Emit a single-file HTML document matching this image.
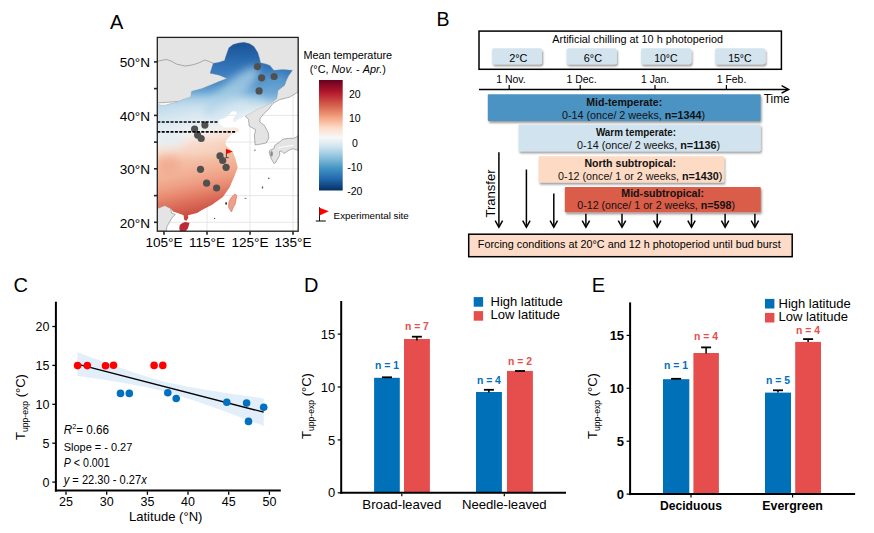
<!DOCTYPE html>
<html><head><meta charset="utf-8"><style>
html,body{margin:0;padding:0;background:#fff;}
svg{display:block;font-family:"Liberation Sans", sans-serif;}
</style></head><body>
<svg width="874" height="533" viewBox="0 0 874 533">
<rect width="874" height="533" fill="#fff"/>
<text x="110" y="29.3" font-size="20" fill="#000">A</text>
<defs><clipPath id="frame"><rect x="157.3" y="37.4" width="140.89999999999998" height="193.79999999999998"/></clipPath>
<linearGradient id="tg" gradientUnits="userSpaceOnUse" x1="200" y1="40" x2="200" y2="235" gradientTransform="rotate(-12 200 140)">
<stop offset="0.2564" stop-color="#a9cfe6"/>
<stop offset="0.3077" stop-color="#c0dbec"/>
<stop offset="0.3692" stop-color="#d6e6f0"/>
<stop offset="0.4256" stop-color="#e5eef4"/>
<stop offset="0.4718" stop-color="#f2f1f0"/>
<stop offset="0.5077" stop-color="#f9e4d9"/>
<stop offset="0.5538" stop-color="#f7d2c0"/>
<stop offset="0.6051" stop-color="#f4bfa6"/>
<stop offset="0.6667" stop-color="#f2b196"/>
<stop offset="0.7179" stop-color="#eea085"/>
<stop offset="0.7590" stop-color="#e88c72"/>
<stop offset="0.7949" stop-color="#e07862"/>
<stop offset="0.8308" stop-color="#d86654"/>
<stop offset="0.8615" stop-color="#cf5849"/>
<stop offset="0.8923" stop-color="#c5443e"/>
<stop offset="0.9333" stop-color="#bb3037"/>
<stop offset="1.0000" stop-color="#b2182b"/>
</linearGradient>
<linearGradient id="ng" gradientUnits="userSpaceOnUse" x1="0" y1="42" x2="0" y2="114">
<stop offset="0.0000" stop-color="#1a5294" stop-opacity="1"/>
<stop offset="0.1806" stop-color="#2463a8" stop-opacity="1"/>
<stop offset="0.3889" stop-color="#3678bb" stop-opacity="1"/>
<stop offset="0.5833" stop-color="#4a8cc6" stop-opacity="1"/>
<stop offset="0.6944" stop-color="#6fa9d5" stop-opacity="1"/>
<stop offset="0.7917" stop-color="#a4cbe4" stop-opacity="0.85"/>
<stop offset="0.9028" stop-color="#c4ddec" stop-opacity="0.4"/>
<stop offset="1.0000" stop-color="#d0e4ef" stop-opacity="0"/>
</linearGradient>
<linearGradient id="cb" x1="0" y1="0" x2="0" y2="1">
<stop offset="0" stop-color="#67001f"/>
<stop offset="0.11" stop-color="#b2182b"/>
<stop offset="0.23" stop-color="#d6604d"/>
<stop offset="0.34" stop-color="#f4a582"/>
<stop offset="0.43" stop-color="#fddbc7"/>
<stop offset="0.52" stop-color="#f7f7f7"/>
<stop offset="0.60" stop-color="#d1e5f0"/>
<stop offset="0.69" stop-color="#92c5de"/>
<stop offset="0.80" stop-color="#4393c3"/>
<stop offset="0.90" stop-color="#2166ac"/>
<stop offset="1" stop-color="#053061"/>
</linearGradient>
<filter id="blur2" x="-50%" y="-50%" width="200%" height="200%"><feGaussianBlur stdDeviation="4"/></filter>
<filter id="blur1" x="-50%" y="-50%" width="200%" height="200%"><feGaussianBlur stdDeviation="1"/></filter>
<filter id="shadow" x="-10%" y="-30%" width="130%" height="180%"><feGaussianBlur in="SourceAlpha" stdDeviation="1.2"/><feOffset dx="1.3" dy="1.6" result="o"/><feComponentTransfer><feFuncA type="linear" slope="0.4"/></feComponentTransfer><feMerge><feMergeNode/><feMergeNode in="SourceGraphic"/></feMerge></filter>

<clipPath id="china"><polygon points="157.3,104.5 164.4,105.4 168.8,104.1 177.5,101.7 183.0,99.5 190.7,97.0 191.6,91.3 202.0,88.5 211.9,84.4 219.0,81.5 226.9,78.5 219.4,75.3 210.0,73.3 213.2,63.2 218.0,62.5 224.5,60.4 225.5,57.0 228.8,47.8 233.0,44.5 238.1,43.1 244.0,42.3 249.4,43.6 254.0,46.5 257.8,52.5 259.5,58.0 260.6,62.8 266.0,64.0 270.0,65.6 273.8,70.3 283.0,69.5 292.5,70.3 288.5,76.0 286.6,80.0 284.6,85.3 278.0,90.5 276.8,98.4 271.5,103.0 265.0,106.3 257.0,109.5 249.2,114.1 245.3,116.1 242.5,117.4 237.8,119.7 235.0,122.0 233.1,122.0 233.1,118.8 236.9,114.1 236.0,111.3 232.2,111.3 229.4,114.1 226.6,116.9 223.8,118.3 219.1,119.7 218.1,123.0 220.0,124.4 223.8,127.2 229.4,127.7 233.1,127.2 237.8,128.1 239.7,131.0 236.9,132.4 232.2,133.8 228.5,137.5 225.6,141.3 225.6,145.0 229.4,148.8 232.8,151.7 235.7,159.5 237.7,167.4 234.8,175.3 229.8,187.1 222.9,197.0 212.1,204.8 202.3,209.8 197.0,213.0 188.0,215.3 188.3,218.0 186.5,220.8 184.3,220.0 183.5,215.3 179.8,213.8 173.0,211.5 170.8,208.5 164.8,205.5 157.3,208.5"/></clipPath></defs>
<rect x="157.3" y="37.4" width="140.89999999999998" height="193.79999999999998" fill="#fff"/>
<g stroke="#dcdcdc" stroke-width="0.7" clip-path="url(#frame)">
<line x1="157.3" y1="222.3" x2="298.2" y2="222.3"/>
<line x1="157.3" y1="195.6" x2="298.2" y2="195.6"/>
<line x1="157.3" y1="168.8" x2="298.2" y2="168.8"/>
<line x1="157.3" y1="142.1" x2="298.2" y2="142.1"/>
<line x1="157.3" y1="115.4" x2="298.2" y2="115.4"/>
<line x1="157.3" y1="88.6" x2="298.2" y2="88.6"/>
<line x1="157.3" y1="61.9" x2="298.2" y2="61.9"/>
<line x1="164.0" y1="37.4" x2="164.0" y2="231.2"/>
<line x1="207.0" y1="37.4" x2="207.0" y2="231.2"/>
<line x1="250.0" y1="37.4" x2="250.0" y2="231.2"/>
<line x1="293.0" y1="37.4" x2="293.0" y2="231.2"/>
</g>
<g clip-path="url(#frame)" fill="#e4e4e4" stroke="#6a6a6a" stroke-width="0.5">
<polygon points="157.3,37.4 298.2,37.4 298.2,91.8 289.9,97.1 279.4,99.7 272.8,103.6 268.9,108.9 264.0,113.5 260.3,118.1 259.7,122.0 264.3,125.3 268.2,132.5 268.9,137.8 266.3,143.0 259.7,144.3 255.1,145.0 254.4,135.1 255.8,129.9 249.2,126.0 248.5,119.4 245.3,116.1 244.0,113.0 236.0,106.0 200.0,100.0 157.3,103.0"/>
<polygon points="157.3,208.5 164.8,205.5 170.8,208.5 171.5,213.0 175.3,214.5 172.3,217.5 170.0,221.3 167.0,226.5 166.3,231.2 157.3,231.2"/>
<polygon points="274.8,145.3 279.0,142.4 283.1,139.1 289.7,138.3 293.8,138.3 296.3,137.1 298.2,135.4 298.2,150.3 294.6,149.4 293.0,148.6 288.9,150.3 283.9,153.6 281.4,151.1 279.5,151.5 279.8,155.2 277.3,159.3 275.7,162.6 274.0,163.5 271.5,159.3 269.1,152.7 269.9,150.3 274.0,148.6"/>
<polyline fill="none" points="157.3,61.3 166.3,59.4 171,61 176.6,64.1 185,66 192,65 198.2,63.2 204.8,60 209,61.5 213.2,63.2"/>
</g>
<g clip-path="url(#china)">
<rect x="150" y="40" width="150" height="195" fill="url(#tg)"/>
<rect x="150" y="40" width="150" height="76" fill="url(#ng)"/>
<g filter="url(#blur2)">
<ellipse cx="232" cy="92" rx="36" ry="10" transform="rotate(-42 232 92)" fill="#a9cfe6" opacity="0.8"/>
<ellipse cx="275" cy="88" rx="16" ry="14" fill="#6aa7d3" opacity="0.6"/>
<ellipse cx="228" cy="110" rx="22" ry="7" transform="rotate(-20 228 110)" fill="#d5e7f2" opacity="0.8"/>
<ellipse cx="170" cy="140" rx="16" ry="7" fill="#e3edf4" opacity="0.9"/>
<ellipse cx="168" cy="165" rx="12" ry="9" fill="#f0a98d" opacity="0.8"/>
<ellipse cx="205" cy="150" rx="22" ry="6" fill="#f8d8c8" opacity="0.6"/>
</g>
</g>
<polyline fill="none" stroke="#9a9a9a" stroke-width="0.3" points="157.3,104.5 164.4,105.4 168.8,104.1 177.5,101.7 183.0,99.5 190.7,97.0 191.6,91.3 202.0,88.5 211.9,84.4 219.0,81.5 226.9,78.5 219.4,75.3 210.0,73.3 213.2,63.2 218.0,62.5 224.5,60.4 225.5,57.0 228.8,47.8 233.0,44.5 238.1,43.1 244.0,42.3 249.4,43.6 254.0,46.5 257.8,52.5 259.5,58.0 260.6,62.8 266.0,64.0 270.0,65.6 273.8,70.3 283.0,69.5 292.5,70.3 288.5,76.0 286.6,80.0 284.6,85.3 278.0,90.5 276.8,98.4 271.5,103.0 265.0,106.3 257.0,109.5 249.2,114.1 245.3,116.1"/>
<polygon points="179.8,225 182,223.2 185,222 189.5,222.8 188.8,225.5 188,228 185.8,231.2 179.8,231.2 179.3,228" fill="#bd2a37"/>
<polygon points="234.9,194 236.8,195.5 236,200 235.3,203.8 233,208 231.5,212 229.5,209 228.5,206.8 228.9,202.3 230.5,198.5 232.3,196.3" fill="#eda089" stroke="#d86a5a" stroke-width="0.6"/>
<g fill="#3a3a3a">
<ellipse cx="226.1" cy="203.5" rx="0.9" ry="1.4"/>
<ellipse cx="214.6" cy="218.3" rx="0.7" ry="0.6"/>
<ellipse cx="245.5" cy="198.3" rx="1.1" ry="0.6" fill="#777"/>
<ellipse cx="268.8" cy="178.3" rx="0.8" ry="0.9" fill="#666"/>
<ellipse cx="262.5" cy="187.5" rx="0.7" ry="1.2" fill="#666"/>
<ellipse cx="254.9" cy="150.2" rx="0.8" ry="0.6" fill="#666"/>
</g>
<polyline points="278,148.3 282,147 287,146.3 293,145.5" fill="none" stroke="#fff" stroke-width="0.9"/>
<ellipse cx="271.6" cy="153.8" rx="1.3" ry="2.8" fill="#8a8a8a"/>
<circle cx="204.9" cy="125.1" r="3.6" fill="#505050"/>
<circle cx="194.6" cy="129" r="3.6" fill="#505050"/>
<circle cx="197.6" cy="135.1" r="3.6" fill="#505050"/>
<circle cx="201.2" cy="138.5" r="3.6" fill="#505050"/>
<circle cx="220" cy="155.9" r="3.6" fill="#505050"/>
<circle cx="222.7" cy="160.5" r="3.6" fill="#505050"/>
<circle cx="226.1" cy="167.3" r="3.6" fill="#505050"/>
<circle cx="200.5" cy="169.3" r="3.6" fill="#505050"/>
<circle cx="206.6" cy="183.2" r="3.6" fill="#505050"/>
<circle cx="216.6" cy="188" r="3.6" fill="#505050"/>
<circle cx="257.4" cy="66.6" r="3.6" fill="#505050"/>
<circle cx="261.6" cy="77.8" r="3.6" fill="#505050"/>
<circle cx="274.1" cy="76.5" r="3.6" fill="#505050"/>
<circle cx="259.1" cy="90.9" r="3.6" fill="#505050"/>
<line x1="157.3" y1="122" x2="217.5" y2="122" stroke="#000" stroke-width="1.7" stroke-dasharray="3,1.4"/>
<line x1="157.3" y1="131.8" x2="235.5" y2="131.8" stroke="#000" stroke-width="1.7" stroke-dasharray="3,1.4"/>
<line x1="226.4" y1="149" x2="226.4" y2="157.7" stroke="#333" stroke-width="0.9"/>
<line x1="225.5" y1="157.7" x2="228.8" y2="157.7" stroke="#333" stroke-width="0.8"/>
<polygon points="226.4,149.1 232.8,151.5 226.4,153.9" fill="#f00"/>
<rect x="157.3" y="37.4" width="140.89999999999998" height="193.79999999999998" fill="none" stroke="#222" stroke-width="1.3"/>
<line x1="154" y1="222.3" x2="157.3" y2="222.3" stroke="#222" stroke-width="1.6"/>
<text x="150" y="227.5" font-size="13.6" text-anchor="end" fill="#000">20°N</text>
<line x1="154" y1="195.6" x2="157.3" y2="195.6" stroke="#222" stroke-width="1.6"/>
<line x1="154" y1="168.8" x2="157.3" y2="168.8" stroke="#222" stroke-width="1.6"/>
<text x="150" y="174.0" font-size="13.6" text-anchor="end" fill="#000">30°N</text>
<line x1="154" y1="142.1" x2="157.3" y2="142.1" stroke="#222" stroke-width="1.6"/>
<line x1="154" y1="115.4" x2="157.3" y2="115.4" stroke="#222" stroke-width="1.6"/>
<text x="150" y="120.6" font-size="13.6" text-anchor="end" fill="#000">40°N</text>
<line x1="154" y1="88.6" x2="157.3" y2="88.6" stroke="#222" stroke-width="1.6"/>
<line x1="154" y1="61.9" x2="157.3" y2="61.9" stroke="#222" stroke-width="1.6"/>
<text x="150" y="67.1" font-size="13.6" text-anchor="end" fill="#000">50°N</text>
<line x1="164.0" y1="231.2" x2="164.0" y2="234.8" stroke="#222" stroke-width="1.6"/>
<text x="164.0" y="246.6" font-size="13.6" text-anchor="middle" fill="#000">105°E</text>
<line x1="207.0" y1="231.2" x2="207.0" y2="234.8" stroke="#222" stroke-width="1.6"/>
<text x="207.0" y="246.6" font-size="13.6" text-anchor="middle" fill="#000">115°E</text>
<line x1="250.0" y1="231.2" x2="250.0" y2="234.8" stroke="#222" stroke-width="1.6"/>
<text x="250.0" y="246.6" font-size="13.6" text-anchor="middle" fill="#000">125°E</text>
<line x1="293.0" y1="231.2" x2="293.0" y2="234.8" stroke="#222" stroke-width="1.6"/>
<text x="293.0" y="246.6" font-size="13.6" text-anchor="middle" fill="#000">135°E</text>
<text x="303.4" y="58.7" font-size="10.5" textLength="88.7" lengthAdjust="spacingAndGlyphs" fill="#000">Mean temperature</text>
<text x="309.7" y="72.5" font-size="10.5" textLength="76.1" lengthAdjust="spacingAndGlyphs">(°C, <tspan font-style="italic">Nov.</tspan> - <tspan font-style="italic">Apr.</tspan>)</text>
<rect x="319" y="80" width="23.7" height="110.5" fill="url(#cb)"/>
<text x="354.8" y="97.9" font-size="10.5" text-anchor="middle" fill="#000">20</text>
<text x="354.8" y="122.1" font-size="10.5" text-anchor="middle" fill="#000">10</text>
<text x="354.8" y="147.0" font-size="10.5" text-anchor="middle" fill="#000">0</text>
<text x="354.8" y="170.9" font-size="10.5" text-anchor="middle" fill="#000">-10</text>
<text x="354.8" y="194.7" font-size="10.5" text-anchor="middle" fill="#000">-20</text>
<line x1="319.5" y1="207.2" x2="319.5" y2="221" stroke="#000" stroke-width="0.9"/>
<line x1="315.8" y1="221" x2="325.8" y2="221" stroke="#000" stroke-width="1"/>
<polygon points="319.5,207.8 328.8,211.3 319.5,215.4" fill="#f00"/>
<text x="333.6" y="218.6" font-size="9.6" textLength="75.2" lengthAdjust="spacingAndGlyphs" fill="#000">Experimental site</text>
<text x="436.5" y="25.9" font-size="19.5" fill="#000">B</text>
<rect x="479" y="31.1" width="302.4" height="38.2" fill="none" stroke="#000" stroke-width="1.5"/>
<text x="552.3" y="43.2" font-size="11.2" textLength="170.7" lengthAdjust="spacingAndGlyphs" fill="#000">Artificial chilling at 10 h photoperiod</text>
<rect x="492" y="48.3" width="50" height="16" rx="2" fill="#d3e4ef" filter="url(#shadow)"/>
<text x="518.3" y="62" font-size="11.5" text-anchor="middle" textLength="18.3" lengthAdjust="spacingAndGlyphs" fill="#000">2°C</text>
<rect x="566.5" y="48.3" width="50.299999999999955" height="16" rx="2" fill="#d3e4ef" filter="url(#shadow)"/>
<text x="592.9" y="62" font-size="11.5" text-anchor="middle" textLength="18.3" lengthAdjust="spacingAndGlyphs" fill="#000">6°C</text>
<rect x="641" y="48.3" width="50.39999999999998" height="16" rx="2" fill="#d3e4ef" filter="url(#shadow)"/>
<text x="665.9" y="62" font-size="11.5" text-anchor="middle" textLength="23.5" lengthAdjust="spacingAndGlyphs" fill="#000">10°C</text>
<rect x="715" y="48.3" width="50.299999999999955" height="16" rx="2" fill="#d3e4ef" filter="url(#shadow)"/>
<text x="739.9" y="62" font-size="11.5" text-anchor="middle" textLength="23.5" lengthAdjust="spacingAndGlyphs" fill="#000">15°C</text>
<text x="496.2" y="82.9" font-size="10.8" textLength="29.5" lengthAdjust="spacingAndGlyphs" fill="#000">1 Nov.</text>
<text x="566.5" y="82.9" font-size="10.8" textLength="30.2" lengthAdjust="spacingAndGlyphs" fill="#000">1 Dec.</text>
<text x="641" y="82.9" font-size="10.8" textLength="28.2" lengthAdjust="spacingAndGlyphs" fill="#000">1 Jan.</text>
<text x="716.8" y="82.9" font-size="10.8" textLength="29.5" lengthAdjust="spacingAndGlyphs" fill="#000">1 Feb.</text>
<line x1="479" y1="89.4" x2="788" y2="89.4" stroke="#000" stroke-width="1.5"/>
<polyline points="781.6,85.6 788.6,89.4 781.6,93.2" fill="none" stroke="#000" stroke-width="1.5"/>
<line x1="509.2" y1="85" x2="509.2" y2="89.4" stroke="#000" stroke-width="1.2"/>
<line x1="580.2" y1="85" x2="580.2" y2="89.4" stroke="#000" stroke-width="1.2"/>
<line x1="655" y1="85" x2="655" y2="89.4" stroke="#000" stroke-width="1.2"/>
<line x1="726.4" y1="85" x2="726.4" y2="89.4" stroke="#000" stroke-width="1.2"/>
<text x="763.7" y="102.8" font-size="12.5" textLength="26" lengthAdjust="spacingAndGlyphs" fill="#000">Time</text>
<rect x="487.8" y="94.3" width="272.90000000000003" height="26.60000000000001" rx="1" fill="#4b93c2" filter="url(#shadow)"/>
<text x="586.2" y="105.8" font-size="10.8" font-weight="bold" textLength="76.0" lengthAdjust="spacingAndGlyphs" fill="#111">Mid-temperate:</text>
<text x="562" y="118.7" font-size="10.8" textLength="143.1" lengthAdjust="spacingAndGlyphs" fill="#111">0-14 (once/ 2 weeks, <tspan font-weight="bold">n=1344</tspan>)</text>
<rect x="518.5" y="124.4" width="242.20000000000005" height="26.799999999999983" rx="1" fill="#d0e3ef" filter="url(#shadow)"/>
<text x="595.9" y="136" font-size="10.8" font-weight="bold" textLength="80.1" lengthAdjust="spacingAndGlyphs" fill="#111">Warm temperate:</text>
<text x="577.1" y="148.9" font-size="10.8" textLength="143.1" lengthAdjust="spacingAndGlyphs" fill="#111">0-14 (once/ 2 weeks, <tspan font-weight="bold">n=1136</tspan>)</text>
<rect x="538.6" y="156.2" width="185.5" height="26.400000000000006" rx="1" fill="#fddac4" filter="url(#shadow)"/>
<text x="584.4" y="167.2" font-size="10.8" font-weight="bold" textLength="91.6" lengthAdjust="spacingAndGlyphs" fill="#111">North subtropical:</text>
<text x="558.1" y="179.7" font-size="10.8" textLength="164.2" lengthAdjust="spacingAndGlyphs" fill="#111">0-12 (once/ 1 or 2 weeks, <tspan font-weight="bold">n=1430</tspan>)</text>
<rect x="564.8" y="187" width="196.0" height="25.19999999999999" rx="1" fill="#d95d4a" filter="url(#shadow)"/>
<text x="621.3" y="197" font-size="10.8" font-weight="bold" textLength="82.7" lengthAdjust="spacingAndGlyphs" fill="#111">Mid-subtropical:</text>
<text x="577.2" y="209.1" font-size="10.8" textLength="157.8" lengthAdjust="spacingAndGlyphs" fill="#111">0-12 (once/ 1 or 2 weeks, <tspan font-weight="bold">n=598</tspan>)</text>
<rect x="468.7" y="234.2" width="323.5" height="22.5" fill="#fcdcc8" stroke="#000" stroke-width="1.5"/>
<text x="477.8" y="248.4" font-size="10.9" textLength="302.9" lengthAdjust="spacingAndGlyphs" fill="#000">Forcing conditions at 20°C and 12 h photoperiod until bud burst</text>
<line x1="498.9" y1="152.3" x2="498.9" y2="227" stroke="#000" stroke-width="1.5"/>
<polyline points="495.2,220.6 498.9,227.3 502.59999999999997,220.6" fill="none" stroke="#000" stroke-width="1.5"/>
<line x1="526.4" y1="169.5" x2="526.4" y2="227" stroke="#000" stroke-width="1.5"/>
<polyline points="522.6999999999999,220.6 526.4,227.3 530.1,220.6" fill="none" stroke="#000" stroke-width="1.5"/>
<line x1="553.8" y1="193.5" x2="553.8" y2="227" stroke="#000" stroke-width="1.5"/>
<polyline points="550.0999999999999,220.6 553.8,227.3 557.5,220.6" fill="none" stroke="#000" stroke-width="1.5"/>
<line x1="585.9" y1="213.8" x2="585.9" y2="227" stroke="#000" stroke-width="1.5"/>
<polyline points="582.1999999999999,220.6 585.9,227.3 589.6,220.6" fill="none" stroke="#000" stroke-width="1.5"/>
<line x1="622" y1="213.8" x2="622" y2="227" stroke="#000" stroke-width="1.5"/>
<polyline points="618.3,220.6 622,227.3 625.7,220.6" fill="none" stroke="#000" stroke-width="1.5"/>
<line x1="657.2" y1="213.8" x2="657.2" y2="227" stroke="#000" stroke-width="1.5"/>
<polyline points="653.5,220.6 657.2,227.3 660.9000000000001,220.6" fill="none" stroke="#000" stroke-width="1.5"/>
<line x1="691.5" y1="213.8" x2="691.5" y2="227" stroke="#000" stroke-width="1.5"/>
<polyline points="687.8,220.6 691.5,227.3 695.2,220.6" fill="none" stroke="#000" stroke-width="1.5"/>
<line x1="725.1" y1="213.8" x2="725.1" y2="227" stroke="#000" stroke-width="1.5"/>
<polyline points="721.4,220.6 725.1,227.3 728.8000000000001,220.6" fill="none" stroke="#000" stroke-width="1.5"/>
<line x1="754.9" y1="213.8" x2="754.9" y2="227" stroke="#000" stroke-width="1.5"/>
<polyline points="751.1999999999999,220.6 754.9,227.3 758.6,220.6" fill="none" stroke="#000" stroke-width="1.5"/>
<text x="0" y="0" font-size="13" text-anchor="middle" fill="#000" transform="translate(495.2,193.5) rotate(-90)">Transfer</text>
<text x="13.4" y="292.4" font-size="20" fill="#000">C</text>
<polygon points="77.4,352.2 82.0,353.9 86.7,355.7 91.4,357.4 96.0,359.1 100.7,360.8 105.3,362.5 110.0,364.2 114.7,365.8 119.3,367.5 124.0,369.1 128.6,370.7 133.3,372.3 137.9,373.8 142.6,375.3 147.3,376.7 151.9,378.1 156.6,379.4 161.2,380.7 165.9,381.9 170.5,383.0 175.2,384.1 179.9,385.1 184.5,386.0 189.2,386.9 193.8,387.8 198.5,388.6 203.2,389.4 207.8,390.1 212.5,390.9 217.1,391.6 221.8,392.4 226.4,393.1 231.1,393.8 235.8,394.5 240.4,395.1 245.1,395.8 249.7,396.5 254.4,397.1 259.0,397.8 263.7,398.5 263.7,425.9 259.0,424.1 254.4,422.4 249.7,420.6 245.1,418.9 240.4,417.2 235.8,415.4 231.1,413.7 226.4,412.0 221.8,410.3 217.1,408.6 212.5,407.0 207.8,405.3 203.2,403.7 198.5,402.1 193.8,400.5 189.2,398.9 184.5,397.4 179.9,396.0 175.2,394.6 170.5,393.2 165.9,391.9 161.2,390.7 156.6,389.6 151.9,388.5 147.3,387.5 142.6,386.5 137.9,385.6 133.3,384.7 128.6,383.9 124.0,383.1 119.3,382.3 114.7,381.5 110.0,380.8 105.3,380.1 100.7,379.3 96.0,378.6 91.4,377.9 86.7,377.3 82.0,376.6 77.4,375.9" fill="#e2eef9"/>
<line x1="77.4" y1="364.1" x2="263.7" y2="412.2" stroke="#000" stroke-width="1.3"/>
<circle cx="77.6" cy="365.6" r="3.8" fill="#ff0000"/>
<circle cx="87.3" cy="365.6" r="3.8" fill="#ff0000"/>
<circle cx="105.5" cy="365.7" r="3.8" fill="#ff0000"/>
<circle cx="113.5" cy="365.3" r="3.8" fill="#ff0000"/>
<circle cx="154.1" cy="365.4" r="3.8" fill="#ff0000"/>
<circle cx="162.8" cy="365.4" r="3.8" fill="#ff0000"/>
<circle cx="120.5" cy="393.4" r="3.8" fill="#0070c0"/>
<circle cx="129.3" cy="393.4" r="3.8" fill="#0070c0"/>
<circle cx="167.8" cy="392.8" r="3.8" fill="#0070c0"/>
<circle cx="176.2" cy="398.5" r="3.8" fill="#0070c0"/>
<circle cx="226.8" cy="402.3" r="3.8" fill="#0070c0"/>
<circle cx="246.6" cy="403.1" r="3.8" fill="#0070c0"/>
<circle cx="248.5" cy="421.4" r="3.8" fill="#0070c0"/>
<circle cx="263.7" cy="407.3" r="3.8" fill="#0070c0"/>
<line x1="55.9" y1="301.7" x2="55.9" y2="491.6" stroke="#000" stroke-width="2"/>
<line x1="54.9" y1="490.6" x2="280.8" y2="490.6" stroke="#000" stroke-width="2"/>
<line x1="52.3" y1="482.1" x2="55" y2="482.1" stroke="#000" stroke-width="1.3"/>
<text x="49.5" y="486.7" font-size="12.5" text-anchor="end" fill="#000">0</text>
<line x1="52.3" y1="443.2" x2="55" y2="443.2" stroke="#000" stroke-width="1.3"/>
<text x="49.5" y="447.8" font-size="12.5" text-anchor="end" fill="#000">5</text>
<line x1="52.3" y1="404.3" x2="55" y2="404.3" stroke="#000" stroke-width="1.3"/>
<text x="49.5" y="408.9" font-size="12.5" text-anchor="end" fill="#000">10</text>
<line x1="52.3" y1="365.4" x2="55" y2="365.4" stroke="#000" stroke-width="1.3"/>
<text x="49.5" y="370.0" font-size="12.5" text-anchor="end" fill="#000">15</text>
<line x1="52.3" y1="326.5" x2="55" y2="326.5" stroke="#000" stroke-width="1.3"/>
<text x="49.5" y="331.1" font-size="12.5" text-anchor="end" fill="#000">20</text>
<line x1="66.0" y1="491.5" x2="66.0" y2="494.8" stroke="#000" stroke-width="1.3"/>
<text x="66.0" y="506.2" font-size="12.5" text-anchor="middle" fill="#000">25</text>
<line x1="106.7" y1="491.5" x2="106.7" y2="494.8" stroke="#000" stroke-width="1.3"/>
<text x="106.7" y="506.2" font-size="12.5" text-anchor="middle" fill="#000">30</text>
<line x1="147.4" y1="491.5" x2="147.4" y2="494.8" stroke="#000" stroke-width="1.3"/>
<text x="147.4" y="506.2" font-size="12.5" text-anchor="middle" fill="#000">35</text>
<line x1="188.0" y1="491.5" x2="188.0" y2="494.8" stroke="#000" stroke-width="1.3"/>
<text x="188.0" y="506.2" font-size="12.5" text-anchor="middle" fill="#000">40</text>
<line x1="228.7" y1="491.5" x2="228.7" y2="494.8" stroke="#000" stroke-width="1.3"/>
<text x="228.7" y="506.2" font-size="12.5" text-anchor="middle" fill="#000">45</text>
<line x1="269.4" y1="491.5" x2="269.4" y2="494.8" stroke="#000" stroke-width="1.3"/>
<text x="269.4" y="506.2" font-size="12.5" text-anchor="middle" fill="#000">50</text>
<text x="165.7" y="521.4" font-size="13" text-anchor="middle" textLength="73.5" lengthAdjust="spacingAndGlyphs" fill="#000">Latitude (°N)</text>
<text transform="translate(24.5,407) rotate(-90)" font-size="13" text-anchor="middle">T<tspan font-size="8.6" dy="3">upp-exp</tspan><tspan dy="-3"> (°C)</tspan></text>
<text x="63.7" y="433.8" font-size="12" textLength="45.3" lengthAdjust="spacingAndGlyphs"><tspan font-style="italic">R</tspan><tspan font-size="7.5" dy="-4.5">2</tspan><tspan dy="4.5">= 0.66</tspan></text>
<text x="63.7" y="451.1" font-size="11.8" textLength="68.6" lengthAdjust="spacingAndGlyphs" fill="#000">Slope = - 0.27</text>
<text x="63.7" y="466.9" font-size="12" textLength="46" lengthAdjust="spacingAndGlyphs"><tspan font-style="italic">P</tspan> &lt; 0.001</text>
<text x="63.7" y="484" font-size="12" textLength="83.1" lengthAdjust="spacingAndGlyphs"><tspan font-style="italic">y</tspan> = 22.30 - 0.27<tspan font-style="italic">x</tspan></text>
<text x="304.1" y="291.7" font-size="20" fill="#000">D</text>
<rect x="374.1" y="377.8" width="25.69999999999999" height="115.0" fill="#0070b8"/>
<line x1="387.0" y1="377.3" x2="387.0" y2="377.8" stroke="#000" stroke-width="1.5"/>
<line x1="382.0" y1="377.3" x2="392.0" y2="377.3" stroke="#000" stroke-width="1.8"/>
<text x="387.0" y="368.5" font-size="11.2" text-anchor="middle" font-weight="bold" textLength="24" lengthAdjust="spacingAndGlyphs" fill="#0070b8">n = 1</text>
<rect x="404" y="339" width="25.899999999999977" height="153.8" fill="#e64e4e"/>
<line x1="416.9" y1="336.7" x2="416.9" y2="340.4" stroke="#000" stroke-width="1.5"/>
<line x1="411.9" y1="336.7" x2="421.9" y2="336.7" stroke="#000" stroke-width="1.8"/>
<text x="416.9" y="330" font-size="11.2" text-anchor="middle" font-weight="bold" textLength="24" lengthAdjust="spacingAndGlyphs" fill="#e64e4e">n = 7</text>
<rect x="476" y="392" width="25.899999999999977" height="100.80000000000001" fill="#0070b8"/>
<line x1="488.9" y1="389.8" x2="488.9" y2="392.6" stroke="#000" stroke-width="1.5"/>
<line x1="483.9" y1="389.8" x2="493.9" y2="389.8" stroke="#000" stroke-width="1.8"/>
<text x="488.9" y="383.6" font-size="11.2" text-anchor="middle" font-weight="bold" textLength="24" lengthAdjust="spacingAndGlyphs" fill="#0070b8">n = 4</text>
<rect x="507" y="370.9" width="25.899999999999977" height="121.90000000000003" fill="#e64e4e"/>
<line x1="520.0" y1="371" x2="520.0" y2="371.5" stroke="#000" stroke-width="1.5"/>
<line x1="515.0" y1="371" x2="525.0" y2="371" stroke="#000" stroke-width="1.8"/>
<text x="520.0" y="365.3" font-size="11.2" text-anchor="middle" font-weight="bold" textLength="24" lengthAdjust="spacingAndGlyphs" fill="#e64e4e">n = 2</text>
<line x1="341.2" y1="301" x2="341.2" y2="493.8" stroke="#000" stroke-width="2"/>
<line x1="340.2" y1="492.8" x2="566" y2="492.8" stroke="#000" stroke-width="2"/>
<line x1="337.7" y1="492.8" x2="341.2" y2="492.8" stroke="#000" stroke-width="1.2"/>
<text x="335.2" y="497.4" font-size="13" text-anchor="end" fill="#000">0</text>
<line x1="337.7" y1="439.9" x2="341.2" y2="439.9" stroke="#000" stroke-width="1.2"/>
<text x="335.2" y="444.5" font-size="13" text-anchor="end" fill="#000">5</text>
<line x1="337.7" y1="387.0" x2="341.2" y2="387.0" stroke="#000" stroke-width="1.2"/>
<text x="335.2" y="391.6" font-size="13" text-anchor="end" fill="#000">10</text>
<line x1="337.7" y1="334.1" x2="341.2" y2="334.1" stroke="#000" stroke-width="1.2"/>
<text x="335.2" y="338.7" font-size="13" text-anchor="end" fill="#000">15</text>
<line x1="401.8" y1="493.8" x2="401.8" y2="496.3" stroke="#000" stroke-width="1.2"/>
<text x="401.8" y="508.6" font-size="13" text-anchor="middle" textLength="79" lengthAdjust="spacingAndGlyphs" fill="#000">Broad-leaved</text>
<line x1="504.3" y1="493.8" x2="504.3" y2="496.3" stroke="#000" stroke-width="1.2"/>
<text x="504.3" y="508.6" font-size="13" text-anchor="middle" textLength="84.8" lengthAdjust="spacingAndGlyphs" fill="#000">Needle-leaved</text>
<rect x="473.7" y="297.1" width="9.4" height="9.6" fill="#0070b8"/>
<rect x="473.7" y="311.1" width="9.4" height="9.6" fill="#e64e4e"/>
<text x="490.5" y="305.8" font-size="13" textLength="72.3" lengthAdjust="spacingAndGlyphs" fill="#000">High latitude</text>
<text x="490.5" y="318.90000000000003" font-size="13" textLength="69.5" lengthAdjust="spacingAndGlyphs" fill="#000">Low latitude</text>
<text transform="translate(310.5,406) rotate(-90)" font-size="13" text-anchor="middle">T<tspan font-size="8.6" dy="3">upp-exp</tspan><tspan dy="-3"> (°C)</tspan></text>
<text x="591.8" y="292" font-size="20" fill="#000">E</text>
<rect x="663" y="379.2" width="26.299999999999955" height="114.90000000000003" fill="#0070b8"/>
<line x1="676.1" y1="378.8" x2="676.1" y2="379.2" stroke="#000" stroke-width="1.5"/>
<line x1="671.1" y1="378.8" x2="681.1" y2="378.8" stroke="#000" stroke-width="1.8"/>
<text x="676.1" y="369.1" font-size="11.2" text-anchor="middle" font-weight="bold" textLength="24" lengthAdjust="spacingAndGlyphs" fill="#0070b8">n = 1</text>
<rect x="693.4" y="353" width="25.5" height="141.10000000000002" fill="#e64e4e"/>
<line x1="706.1" y1="347.4" x2="706.1" y2="353.6" stroke="#000" stroke-width="1.5"/>
<line x1="701.1" y1="347.4" x2="711.1" y2="347.4" stroke="#000" stroke-width="1.8"/>
<text x="706.1" y="340.4" font-size="11.2" text-anchor="middle" font-weight="bold" textLength="24" lengthAdjust="spacingAndGlyphs" fill="#e64e4e">n = 4</text>
<rect x="765" y="392.6" width="26" height="101.5" fill="#0070b8"/>
<line x1="778.0" y1="390.3" x2="778.0" y2="392.6" stroke="#000" stroke-width="1.5"/>
<line x1="773.0" y1="390.3" x2="783.0" y2="390.3" stroke="#000" stroke-width="1.8"/>
<text x="778.0" y="384.1" font-size="11.2" text-anchor="middle" font-weight="bold" textLength="24" lengthAdjust="spacingAndGlyphs" fill="#0070b8">n = 5</text>
<rect x="795.2" y="341.9" width="25.799999999999955" height="152.20000000000005" fill="#e64e4e"/>
<line x1="808.1" y1="339.1" x2="808.1" y2="341.9" stroke="#000" stroke-width="1.5"/>
<line x1="803.1" y1="339.1" x2="813.1" y2="339.1" stroke="#000" stroke-width="1.8"/>
<text x="808.1" y="334.3" font-size="11.2" text-anchor="middle" font-weight="bold" textLength="24" lengthAdjust="spacingAndGlyphs" fill="#e64e4e">n = 4</text>
<line x1="630.1" y1="302.4" x2="630.1" y2="495.1" stroke="#000" stroke-width="2"/>
<line x1="629.1" y1="494.1" x2="855.1" y2="494.1" stroke="#000" stroke-width="2"/>
<line x1="626.6" y1="494.1" x2="630.1" y2="494.1" stroke="#000" stroke-width="1.2"/>
<text x="624.1" y="498.7" font-size="13" text-anchor="end" font-weight="bold" fill="#000">0</text>
<line x1="626.6" y1="441.2" x2="630.1" y2="441.2" stroke="#000" stroke-width="1.2"/>
<text x="624.1" y="445.8" font-size="13" text-anchor="end" font-weight="bold" fill="#000">5</text>
<line x1="626.6" y1="388.3" x2="630.1" y2="388.3" stroke="#000" stroke-width="1.2"/>
<text x="624.1" y="392.9" font-size="13" text-anchor="end" font-weight="bold" fill="#000">10</text>
<line x1="626.6" y1="335.4" x2="630.1" y2="335.4" stroke="#000" stroke-width="1.2"/>
<text x="624.1" y="340.0" font-size="13" text-anchor="end" font-weight="bold" fill="#000">15</text>
<line x1="691" y1="495.1" x2="691" y2="497.6" stroke="#000" stroke-width="1.2"/>
<text x="691" y="509.6" font-size="13" text-anchor="middle" font-weight="bold" textLength="61.9" lengthAdjust="spacingAndGlyphs" fill="#000">Deciduous</text>
<line x1="792.6" y1="495.1" x2="792.6" y2="497.6" stroke="#000" stroke-width="1.2"/>
<text x="792.6" y="509.6" font-size="13" text-anchor="middle" font-weight="bold" textLength="60.6" lengthAdjust="spacingAndGlyphs" fill="#000">Evergreen</text>
<rect x="765" y="298.9" width="9.4" height="9.6" fill="#0070b8"/>
<rect x="765" y="312.9" width="9.4" height="9.6" fill="#e64e4e"/>
<text x="778.5" y="307.59999999999997" font-size="13" textLength="72.3" lengthAdjust="spacingAndGlyphs" fill="#000">High latitude</text>
<text x="778.5" y="320.7" font-size="13" textLength="69.5" lengthAdjust="spacingAndGlyphs" fill="#000">Low latitude</text>
<text transform="translate(596.5,406) rotate(-90)" font-size="13" text-anchor="middle">T<tspan font-size="8.6" dy="3">upp-exp</tspan><tspan dy="-3"> (°C)</tspan></text>
</svg></body></html>
